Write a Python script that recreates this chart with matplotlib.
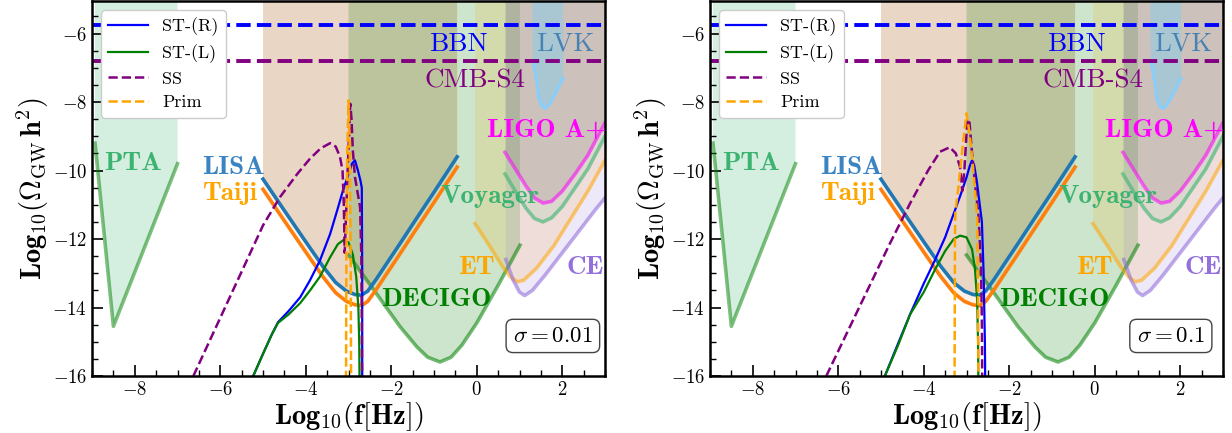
import numpy as np
import matplotlib.pyplot as plt
from matplotlib.ticker import MultipleLocator

plt.rcParams['font.family'] = 'cmr10'
plt.rcParams['mathtext.fontset'] = 'cm'
plt.rcParams['axes.formatter.use_mathtext'] = True
plt.rcParams['axes.unicode_minus'] = False

# detector sensitivity curves (log10 f, log10 Omega h^2)
pta_x = [-8.93, -8.5, -7.0]
pta_y = [-9.2, -14.55, -9.8]

lisa_x = [-5.0, -4.5, -4.0, -3.6, -3.3, -3.05, -2.85, -2.7, -2.55, -2.35, -2.1, -1.8, -1.5, -1.0, -0.46]
lisa_y = [-10.25, -11.17, -12.08, -12.8, -13.27, -13.52, -13.62, -13.64, -13.52, -13.17, -12.7, -12.14, -11.57, -10.63, -9.6]

taiji_x = [-5.0, -4.5, -4.0, -3.6, -3.3, -3.05, -2.85, -2.7, -2.55, -2.35, -2.1, -1.8, -1.5, -1.0, -0.46]
taiji_y = [-10.55, -11.47, -12.38, -13.1, -13.57, -13.82, -13.92, -13.95, -13.82, -13.47, -13.0, -12.44, -11.87, -10.93, -9.9]

decigo_x = [-3.0, -2.4, -1.8, -1.4, -1.15, -0.86, -0.6, -0.35, 0.0, 0.5, 1.01]
decigo_y = [-12.47, -13.5, -14.55, -15.15, -15.45, -15.59, -15.45, -15.1, -14.45, -13.35, -12.18]

et_x = [-0.04, 0.3, 0.6, 0.8, 0.95, 1.1, 1.4, 1.8, 2.2, 2.6, 3.0]
et_y = [-11.55, -12.2, -12.8, -13.12, -13.25, -13.2, -12.85, -12.2, -11.4, -10.6, -9.7]

ce_x = [0.68, 0.85, 1.0, 1.12, 1.3, 1.6, 2.0, 2.4, 2.8, 3.0]
ce_y = [-12.6, -13.2, -13.55, -13.65, -13.5, -13.05, -12.4, -11.75, -11.1, -10.8]

voyager_x = [0.66, 0.9, 1.15, 1.35, 1.55, 1.75, 2.0, 2.3, 2.6, 3.0]
voyager_y = [-10.1, -10.6, -11.1, -11.4, -11.5, -11.38, -11.05, -10.5, -9.95, -9.0]

ligo_x = [0.66, 0.9, 1.15, 1.35, 1.55, 1.75, 2.0, 2.3, 2.6, 3.0]
ligo_y = [-9.47, -9.95, -10.45, -10.8, -10.95, -10.9, -10.6, -10.1, -9.55, -8.6]

lvk_x = [1.30, 1.31, 1.36, 1.41, 1.45, 1.52, 1.6, 1.68, 1.79, 1.9, 2.02, 2.02]
lvk_y = [-5.05, -6.79, -7.1, -7.46, -7.9, -8.12, -8.19, -8.1, -7.87, -7.6, -7.31, -5.05]

bbn_level = -5.75
cmb_level = -6.8

# signals, sigma = 0.01
str_x_a = [-5.3, -5.23, -5.0, -4.8, -4.65, -4.4, -4.13, -3.9, -3.67, -3.43, -3.25, -3.13, -3.0, -2.92, -2.85, -2.78, -2.72, -2.69, -2.68, -2.68]
str_y_a = [-16.2, -16.0, -15.35, -14.8, -14.43, -14.1, -13.7, -13.2, -12.63, -11.85, -11.1, -10.58, -10.1, -9.8, -9.7, -10.0, -10.3, -10.5, -13.0, -16.5]
stl_x_a = [-5.3, -5.23, -5.0, -4.8, -4.65, -4.4, -4.13, -3.9, -3.67, -3.43, -3.25, -3.12, -3.0, -2.9, -2.82, -2.77, -2.75, -2.74]
stl_y_a = [-16.2, -16.0, -15.35, -14.8, -14.45, -14.2, -13.87, -13.5, -13.1, -12.53, -12.15, -12.03, -12.1, -12.45, -13.1, -14.0, -15.0, -16.5]
ss_x_a = [-6.63, -6.0, -5.5, -5.0, -4.6, -4.2, -3.9, -3.65, -3.43, -3.3, -3.2, -3.14, -3.11, -3.09, -3.02, -2.96, -2.93, -2.9, -2.85, -2.78, -2.73, -2.7, -2.69, -2.68]
ss_y_a = [-16.0, -14.3, -12.95, -11.6, -10.77, -10.1, -9.65, -9.35, -9.2, -9.3, -9.6, -10.0, -11.0, -12.4, -10.0, -8.05, -8.5, -9.4, -10.19, -10.7, -11.06, -12.5, -14.45, -16.5]
prim_x_a = [-3.06, -3.05, -3.03, -3.0, -2.97, -2.95, -2.94]
prim_y_a = [-16.5, -12.5, -9.5, -7.95, -9.5, -12.5, -16.5]

# signals, sigma = 0.1
str_x_b = [-4.98, -4.91, -4.6, -4.32, -4.0, -3.74, -3.5, -3.34, -3.15, -3.0, -2.92, -2.87, -2.82, -2.76, -2.7, -2.64, -2.6, -2.57, -2.56]
str_y_b = [-16.2, -16.0, -15.05, -14.2, -13.3, -12.62, -11.95, -11.4, -10.75, -10.2, -9.85, -9.7, -9.85, -10.3, -10.9, -11.5, -13.0, -15.0, -16.5]
stl_x_b = [-4.98, -4.91, -4.6, -4.32, -4.0, -3.74, -3.5, -3.3, -3.15, -3.0, -2.87, -2.8, -2.75, -2.73, -2.72]
stl_y_b = [-16.2, -16.0, -15.1, -14.2, -13.55, -12.9, -12.35, -12.0, -11.9, -11.95, -12.3, -12.9, -13.8, -15.0, -16.5]
ss_x_b = [-6.28, -5.8, -5.3, -4.8, -4.32, -3.9, -3.62, -3.39, -3.25, -3.15, -3.1, -3.05, -2.98, -2.93, -2.87, -2.8, -2.72, -2.66, -2.64, -2.63]
ss_y_b = [-16.0, -14.75, -13.45, -12.15, -10.96, -10.0, -9.45, -9.32, -9.5, -9.9, -10.6, -10.0, -8.5, -8.6, -9.5, -10.4, -11.3, -12.8, -14.5, -16.5]
prim_x_b = [-3.28, -3.27, -3.26, -3.19, -3.1, -3.0, -2.93, -2.87, -2.8, -2.75, -2.73, -2.72]
prim_y_b = [-16.5, -12.0, -11.2, -10.5, -9.4, -8.33, -8.9, -9.6, -10.6, -11.4, -13.5, -16.5]

sigma_labels = [r'$\sigma = 0.01$', r'$\sigma = 0.1$']

bold = 'cmb10'
top = 0.0


def panel(ax, sx_r, sy_r, sx_l, sy_l, sx_s, sy_s, sx_p, sy_p, sig):
    # shaded regions above each sensitivity curve
    ax.fill_between(pta_x, pta_y, top, color='mediumseagreen', alpha=0.22, lw=0)
    ax.fill_between(taiji_x, taiji_y, top, color='#ff7f0e', alpha=0.1, lw=0)
    ax.fill_between(lisa_x, lisa_y, top, color='#a07850', alpha=0.22, lw=0)
    ax.fill_between(decigo_x, decigo_y, top, color='green', alpha=0.2, lw=0)
    ax.fill_between(et_x, et_y, top, color='orange', alpha=0.15, lw=0)
    ax.fill_between(ce_x, ce_y, top, color='mediumpurple', alpha=0.15, lw=0)
    ax.fill_between(voyager_x, voyager_y, top, color='mediumseagreen', alpha=0.1, lw=0)
    ax.fill_between(ligo_x, ligo_y, top, color='#7a3a55', alpha=0.14, lw=0)
    ax.fill(lvk_x, lvk_y, color='skyblue', alpha=0.5, lw=0)
    ax.plot(lvk_x[1:-1], lvk_y[1:-1], color='lightskyblue', lw=2.2)

    ax.plot(pta_x, pta_y, color='green', alpha=0.5, lw=2.6)
    ax.plot(decigo_x, decigo_y, color='green', alpha=0.55, lw=2.6)
    ax.plot(et_x, et_y, color='orange', alpha=0.55, lw=2.6)
    ax.plot(ce_x, ce_y, color='mediumpurple', alpha=0.6, lw=2.6)
    ax.plot(voyager_x, voyager_y, color='mediumseagreen', alpha=0.6, lw=2.6)
    ax.plot(ligo_x, ligo_y, color='magenta', alpha=0.55, lw=2.6)
    ax.plot(taiji_x, taiji_y, color='#ff7f0e', lw=2.6)
    ax.plot(lisa_x, lisa_y, color='#1f77b4', lw=2.6)

    ax.axhline(bbn_level, color='blue', ls='--', lw=2.8)
    ax.axhline(cmb_level, color='purple', ls='--', lw=2.8)

    ax.plot(sx_r, sy_r, color='blue', lw=1.6, label='ST-(R)')
    ax.plot(sx_l, sy_l, color='green', lw=1.6, label='ST-(L)')
    ax.plot(sx_s, sy_s, color='purple', ls='--', lw=1.8, label='SS')
    ax.plot(sx_p, sy_p, color='orange', ls='--', lw=1.8, label='Prim')

    fs = 19.5
    ax.text(-8.05, -9.8, 'PTA', color='mediumseagreen', fontsize=fs, family=bold, ha='center', va='center')
    ax.text(-5.7, -9.9, 'LISA', color='#3b84c2', fontsize=fs, family=bold, ha='center', va='center')
    ax.text(-5.77, -10.67, 'Taiji', color='orange', fontsize=fs, family=bold, ha='center', va='center')
    ax.text(-0.44, -6.3, 'BBN', color='blue', fontsize=fs, ha='center', va='center')
    ax.text(-0.04, -7.37, 'CMB-S4', color='purple', fontsize=fs, ha='center', va='center')
    ax.text(2.07, -6.3, 'LVK', color='steelblue', fontsize=fs, ha='center', va='center')
    ax.text(1.64, -8.83, 'LIGO A+', color='magenta', fontsize=fs, family=bold, ha='center', va='center')
    ax.text(0.31, -10.75, 'Voyager', color='mediumseagreen', fontsize=fs, family=bold, ha='center', va='center')
    ax.text(0.0, -12.82, 'ET', color='orange', fontsize=fs, family=bold, ha='center', va='center')
    ax.text(2.54, -12.82, 'CE', color='mediumpurple', fontsize=fs, family=bold, ha='center', va='center')
    ax.text(-0.94, -13.78, 'DECIGO', color='green', fontsize=fs, family=bold, ha='center', va='center')
    ax.text(1.78, -14.83, sig, fontsize=16.5, ha='center', va='center',
            bbox=dict(boxstyle='round,pad=0.3', fc='white', ec='#444444', lw=1))

    ax.set_xlim(-9, 3)
    ax.set_ylim(-16, -5.05)
    ax.xaxis.set_major_locator(MultipleLocator(2))
    ax.xaxis.set_minor_locator(MultipleLocator(0.5))
    ax.yaxis.set_major_locator(MultipleLocator(2))
    ax.yaxis.set_minor_locator(MultipleLocator(0.5))
    ax.tick_params(which='both', direction='in', labelsize=13.5)
    ax.tick_params(which='major', length=8, width=1.2)
    ax.tick_params(which='minor', length=4.5, width=1.0)
    for s in ax.spines.values():
        s.set_linewidth(1.8)
    ax.set_xlabel(r'$\mathbf{Log_{10}(f[Hz])}$', fontsize=20.5, labelpad=1)
    ax.set_ylabel(r'$\mathbf{Log_{10}(\Omega}_{\rm GW}\,\mathbf{h^2)}$', fontsize=20.5, labelpad=1)
    leg = ax.legend(loc='upper left', fontsize=13, framealpha=1, handlelength=2.2,
                    borderpad=0.4, labelspacing=0.45)
    leg.get_frame().set_edgecolor('#cccccc')


fig = plt.figure(figsize=(12.32, 4.33), dpi=100)
ax1 = fig.add_axes([0.0747, 0.1316, 0.4164, 0.866])
ax2 = fig.add_axes([0.5763, 0.1316, 0.4164, 0.866])

panel(ax1, str_x_a, str_y_a, stl_x_a, stl_y_a, ss_x_a, ss_y_a, prim_x_a, prim_y_a, sigma_labels[0])
panel(ax2, str_x_b, str_y_b, stl_x_b, stl_y_b, ss_x_b, ss_y_b, prim_x_b, prim_y_b, sigma_labels[1])

fig.savefig('out.png', dpi=100)
